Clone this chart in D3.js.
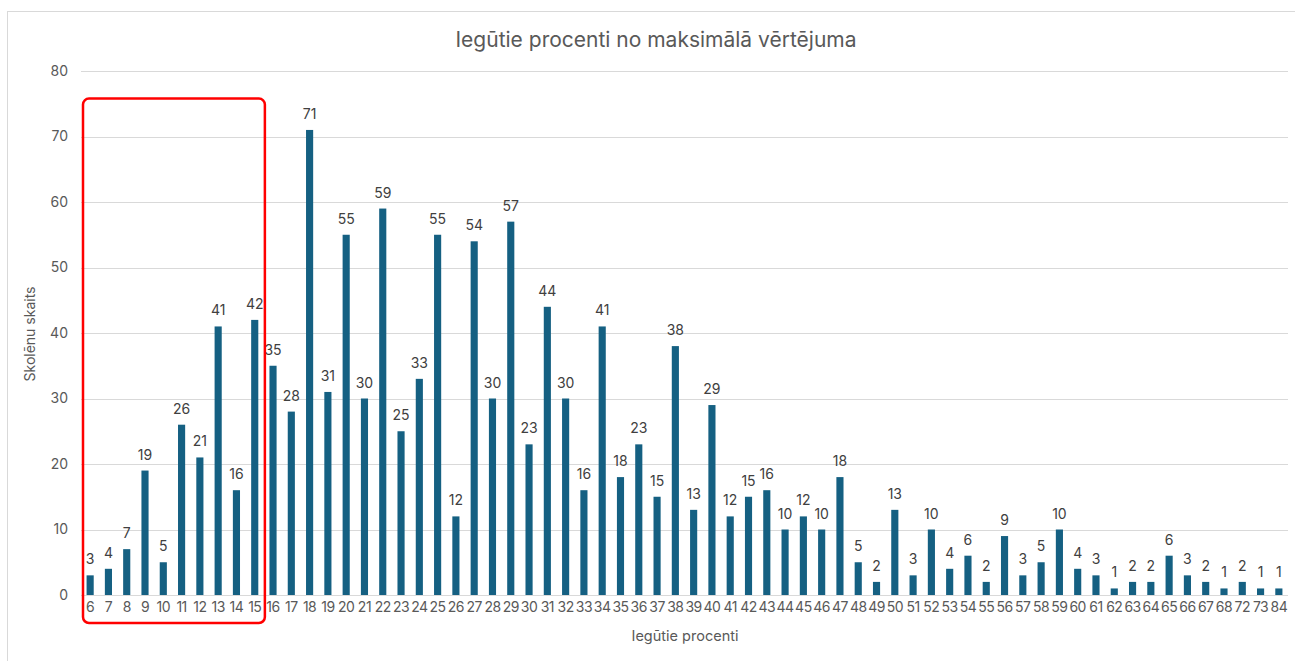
<!DOCTYPE html>
<html><head><meta charset="utf-8">
<script src="https://cdn.jsdelivr.net/npm/d3@7"></script>
<style>
html,body{margin:0;padding:0;background:#fff;}
svg{display:block;font-family:Inter, "Noto Sans", sans-serif;}
</style></head>
<body>
<svg id="c" width="1295" height="661"></svg>
<script>
const categories = ["6","7","8","9","10","11","12","13","14","15","16","17","18","19","20","21","22","23","24","25","26","27","28","29","30","31","32","33","34","35","36","37","38","39","40","41","42","43","44","45","46","47","48","49","50","51","52","53","54","55","56","57","58","59","60","61","62","63","64","65","66","67","68","72","73","84"];
const values = [3,4,7,19,5,26,21,41,16,42,35,28,71,31,55,30,59,25,33,55,12,54,30,57,23,44,30,16,41,18,23,15,38,13,29,12,15,16,10,12,10,18,5,2,13,3,10,4,6,2,9,3,5,10,4,3,1,2,2,6,3,2,1,2,1,1];
const yTicks = [0,10,20,30,40,50,60,70,80];
const highlight = ["6","15"];
const title = "Iegūtie procenti no maksimālā vērtējuma";
const xTitle = "Iegūtie procenti";
const yTitle = "Skolēnu skaits";

const svg = d3.select("#c");
const M = {left:81, right:1288, top:71, bottom:595};
const x = d3.scaleBand().domain(categories).range([M.left, M.right]).paddingInner(0.61).paddingOuter(0.305);
const y = d3.scaleLinear().domain([0,80]).range([M.bottom, M.top]);
const txt = "#595959";
const ff = "Inter, 'Noto Sans', sans-serif";

// chart border
svg.append("rect").attr("x",7.5).attr("y",11.5).attr("width",1300).attr("height",700)
  .attr("fill","none").attr("stroke","#d9d9d9").attr("stroke-width",1);

// title
svg.append("text").attr("x",656).attr("y",47).attr("text-anchor","middle")
  .attr("font-size",21).attr("fill",txt).text(title);

// gridlines
svg.append("g").selectAll("line").data(yTicks).join("line")
  .attr("x1",M.left).attr("x2",M.right)
  .attr("y1",d=>Math.round(y(d))+0.5).attr("y2",d=>Math.round(y(d))+0.5)
  .attr("stroke","#d9d9d9").attr("stroke-width",1);

// y axis labels
const yAxis = d3.axisLeft(y).tickValues(yTicks).tickSize(0).tickPadding(13);
const gy = svg.append("g").attr("transform",`translate(${M.left},0)`).call(yAxis);
gy.select(".domain").remove();
gy.selectAll("text").attr("font-size",14).attr("fill",txt).attr("font-family",ff);

// x axis labels
const xAxis = d3.axisBottom(x).tickSize(0).tickPadding(7);
const gx = svg.append("g").attr("transform",`translate(0,${M.bottom})`).call(xAxis);
gx.select(".domain").remove();
gx.selectAll("text").attr("font-size",14).attr("fill",txt).attr("font-family",ff).attr("letter-spacing","-0.5");

// bars
const data = categories.map((c,i)=>({c, v:values[i]}));
svg.append("g").selectAll("rect").data(data).join("rect")
  .attr("x",d=>x(d.c)).attr("width",x.bandwidth())
  .attr("y",d=>y(d.v)).attr("height",d=>y(0)-y(d.v))
  .attr("fill","#156082");

// labels
svg.append("g").selectAll("text").data(data).join("text")
  .attr("x",d=>x(d.c)+x.bandwidth()/2).attr("y",d=>y(d.v)-11)
  .attr("text-anchor","middle").attr("font-size",14).attr("fill","#404040")
  .text(d=>d.v);

// axis titles
svg.append("text").attr("x",685).attr("y",641).attr("text-anchor","middle")
  .attr("font-size",14.5).attr("fill",txt).text(xTitle);
svg.append("text").attr("transform","translate(35,334) rotate(-90)").attr("text-anchor","middle")
  .attr("font-size",14).attr("fill",txt).text(yTitle);

// highlight box
const hx1 = x(highlight[1]) + x.bandwidth() + (x.step()-x.bandwidth())/2 + 1;
const hx0 = x(highlight[0]) - (x.step()-x.bandwidth())/2 + 2;
svg.append("rect").attr("x",hx0).attr("y",y(75.8))
  .attr("width",hx1-hx0).attr("height",623-y(75.8))
  .attr("rx",6).attr("ry",6).attr("fill","none").attr("stroke","#ff0000").attr("stroke-width",2.5);
</script>
</body></html>
